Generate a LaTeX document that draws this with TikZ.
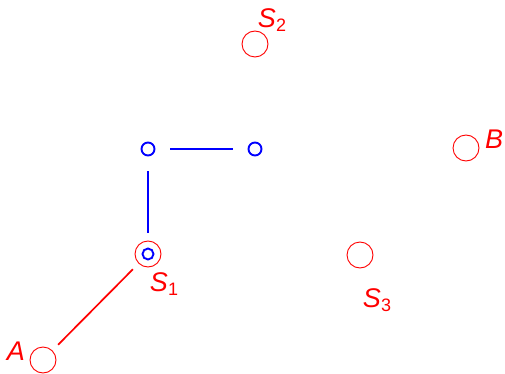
\documentclass[tikz,border=0pt]{standalone}
\usepackage{fontspec}
\setmainfont{Liberation Sans}
\usetikzlibrary{positioning}
\newcommand{\idx}[1]{\raisebox{-4.5pt}{\fontsize{18}{18}\selectfont\upshape #1}}

\begin{document}
\begin{tikzpicture}[
    x=1pt, y=-1pt,
    site/.style={circle, draw=red, line width=0.9pt, minimum size=26pt, inner sep=0pt},
    joint/.style={circle, draw=blue, line width=1.9pt, minimum size=13pt, inner sep=0pt},
    tag/.style={text=red, font=\fontsize{27}{27}\selectfont\itshape, inner sep=0pt},
    arm/.style={blue, line width=1.8pt, shorten <=15pt, shorten >=15pt},
    reach/.style={red, line width=1.7pt, shorten <=8pt, shorten >=8pt},
]
\useasboundingbox (0,0) rectangle (505,374);

% sitios
\node[site] (a)  at (43,360)  {};
\node[site] (s1) at (148,254) {};
\node[site] (s2) at (255,44)  {};
\node[site] (s3) at (360,255) {};
\node[site] (b)  at (466,148) {};

% brazo
\node[joint] (j1) at (148,149) {};
\node[joint] (j2) at (255,149) {};
\node[joint, minimum size=11pt] (j0) at (s1) {};

\draw[arm] (j1) -- (j2);
\draw[arm] (j1) -- (j0);
\draw[reach] (a) -- (s1);

% etiquetas
\node[tag] at ([shift={(-27,-9)}]a)  {A};
\node[tag] at ([shift={(16,30)}]s1)  {S\idx{1}};
\node[tag] at ([shift={(17,-24)}]s2) {S\idx{2}};
\node[tag] at ([shift={(17,45)}]s3)  {S\idx{3}};
\node[tag] at ([shift={(28,-9)}]b)   {B};

\end{tikzpicture}
\end{document}
